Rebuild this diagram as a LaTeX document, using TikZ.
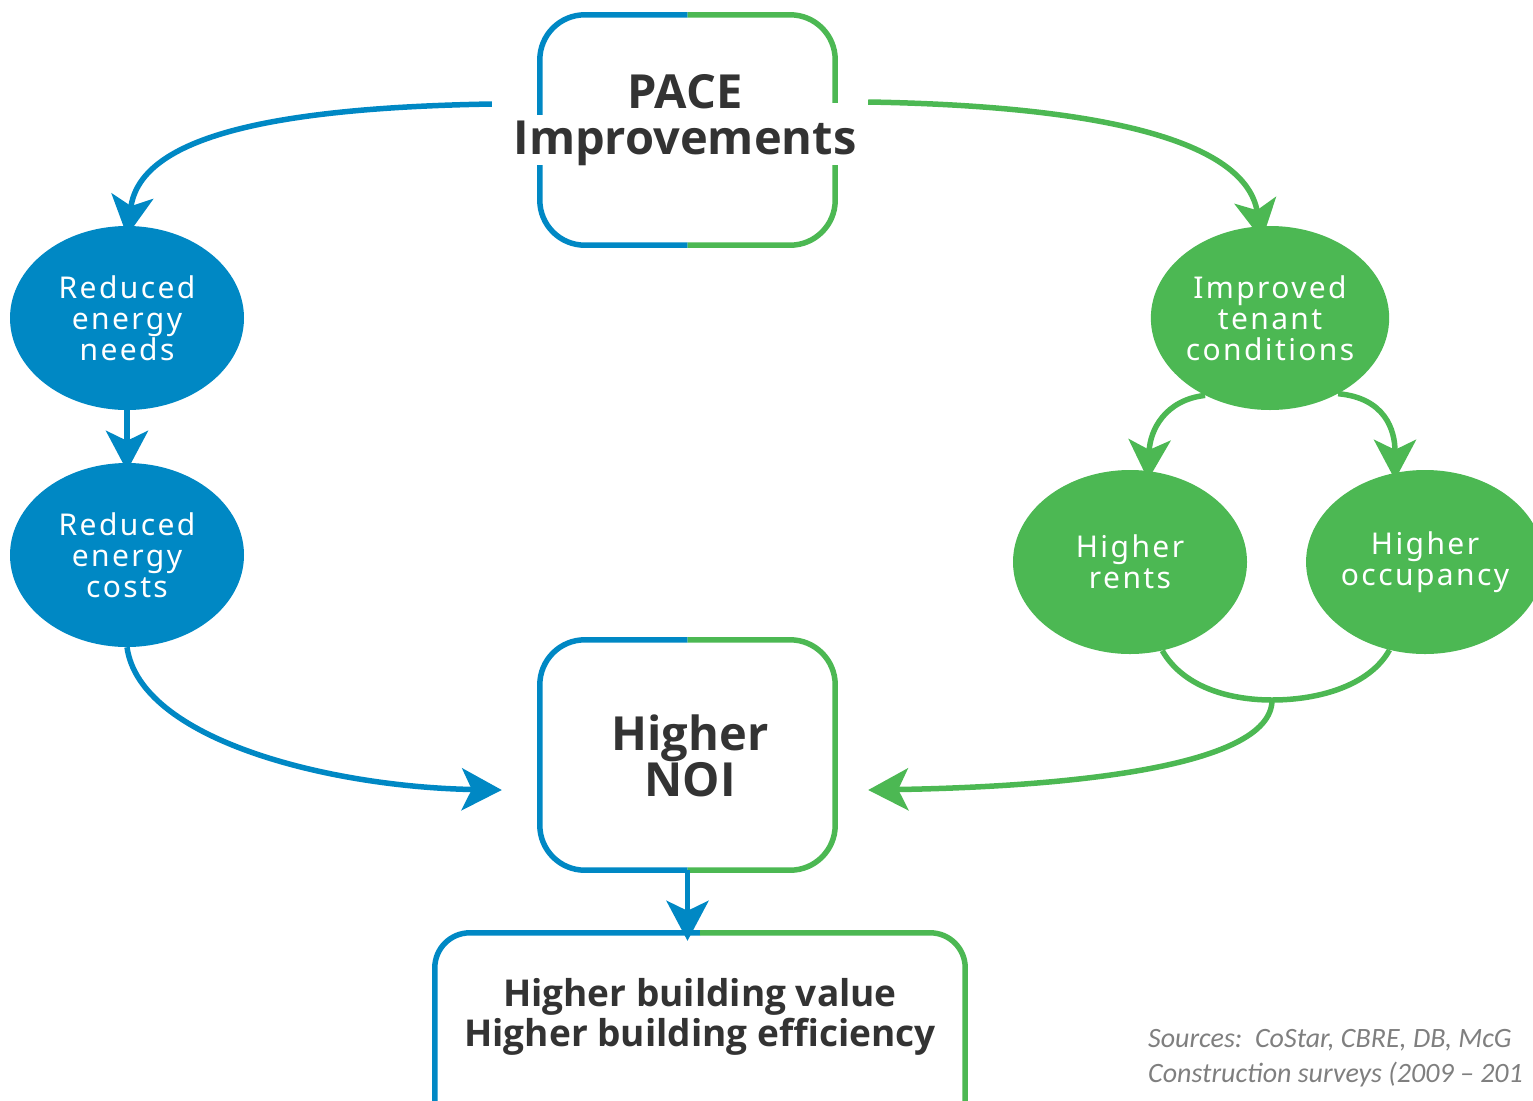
\documentclass[tikz,border=0pt]{standalone}
\usepackage{fontspec}
\setmainfont{Open Sans}
\newfontfamily\circfont[LetterSpace=8]{Noto Sans}
\newfontfamily\srcfont{Carlito}
\usetikzlibrary{arrows.meta,calc,shapes.geometric}
\definecolor{cblue}{HTML}{0088C4}
\definecolor{cgreen}{HTML}{4CB853}
\definecolor{ctext}{HTML}{333333}
\definecolor{cgray}{HTML}{7F7F7F}
\begin{document}
\begin{tikzpicture}[x=1pt,y=-1pt,
  boxarea/.style={rectangle,draw=none,inner sep=0pt},
  bluebd/.style={draw=cblue,line width=5.5pt,rounded corners=45pt},
  greenbd/.style={draw=cgreen,line width=5.5pt,rounded corners=45pt},
  bigtext/.style={font=\bfseries\fontsize{47}{46}\selectfont,text=ctext,align=center,inner sep=0pt},
  circblue/.style={ellipse,fill=cblue,minimum width=234pt,minimum height=184pt,inner sep=0pt,
     text=white,align=center,font=\circfont\fontsize{30}{31}\selectfont},
  circgreen/.style={circblue,fill=cgreen},
  barrow/.style={draw=cblue,line width=5.5pt,-{Stealth[length=40pt,width=42pt,inset=10pt]}},
  garrow/.style={draw=cgreen,line width=5.5pt,-{Stealth[length=40pt,width=42pt,inset=10pt]}},
  gline/.style={draw=cgreen,line width=5.5pt}
]
\useasboundingbox (0,0) rectangle (1533,1100);
\begin{scope}
\clip (0,0) rectangle (1533,1100);
% PACE box
\node[boxarea,minimum width=295pt,minimum height=230pt] (pace) at (687.5,130) {};
\draw[bluebd] (pace.north) -- (pace.north west) -- (pace.south west) -- (pace.south);
\draw[greenbd] (pace.north) -- (pace.north east) -- (pace.south east) -- (pace.south);
\fill[white] (530,115) rectangle (548,165);
\fill[white] (827,103) rectangle (845,165);
\node[bigtext] (pacet) at (685,120) {PACE\\Improvements};

% NOI box
\node[boxarea,minimum width=295pt,minimum height=230pt] (noi) at (687.5,755) {};
\draw[bluebd] (noi.north) -- (noi.north west) -- (noi.south west) -- (noi.south);
\draw[greenbd] (noi.north) -- (noi.north east) -- (noi.south east) -- (noi.south);
\node[bigtext] (noit) at (690,756) {Higher\\NOI};

% bottom box
\node[boxarea,minimum width=530pt,minimum height=200pt] (val) at (700,1033) {};
\draw[bluebd,rounded corners=35pt] (val.north) -- (val.north west) -- (val.south west) -- (val.south);
\draw[greenbd,rounded corners=35pt] (val.north) -- (val.north east) -- (val.south east) -- (val.south);
\node[bigtext,font=\bfseries\fontsize{37}{40}\selectfont] (valt) at (700,1017) {Higher building value\\Higher building efficiency};

% ellipses
\node[circblue] (red1) at (127,318) {Reduced\\energy\\needs};
\node[circblue] (red2) at (127,555) {Reduced\\energy\\costs};
\node[circgreen] (imp) at (1270,318) {Improved\\tenant\\conditions};
\node[circgreen] (rent) at (1130,562) {Higher\\rents};
\node[circgreen] (occ) at (1425,562) {Higher\\occupancy};

% connectors
\coordinate (pl) at ($(pace.west)+(-48,-26)$);
\coordinate (pr) at ($(pace.east)+(33,-28)$);
\draw[barrow] (pl) .. controls (260,108) and (140,140) .. ([yshift=-10pt]red1.north);
\draw[garrow] (pr) .. controls (1100,106) and (1245,140) .. ([xshift=-8pt,yshift=-14pt]imp.north);
\draw[barrow] (red1.south) -- ([yshift=-8pt]red2.north);
\draw[barrow] (red2.south) .. controls (140,740) and (330,787) .. ([xshift=-38pt,yshift=-35pt]noi.west);
\draw[barrow] (noi.south) -- ([yshift=-8pt]noi.south |- val.north);
\draw[garrow] (imp.-130) .. controls (1165,400) and (1150,430) .. ([xshift=18pt,yshift=-10pt]rent.north);
\draw[garrow] (imp.-48) .. controls (1385,398) and (1395,430) .. ([xshift=-30pt,yshift=-10pt]occ.north);
\coordinate (jn) at (1272,700);
\draw[gline] (rent.-70) .. controls (1185,690) and (1235,700) .. (jn) .. controls (1320,700) and (1370,685) .. (occ.-112);
\draw[garrow] (jn) .. controls (1272,770) and (1050,787) .. ([xshift=33pt,yshift=-35pt]noi.east);

% sources
\node[anchor=west,font=\srcfont\itshape\fontsize{28}{35}\selectfont,text=cgray,align=left,inner sep=0pt] (src) at (1148,1058) {Sources:\ \ CoStar, CBRE, DB, McG\\Construction surveys (2009 – 201};
\end{scope}
\end{tikzpicture}
\end{document}
